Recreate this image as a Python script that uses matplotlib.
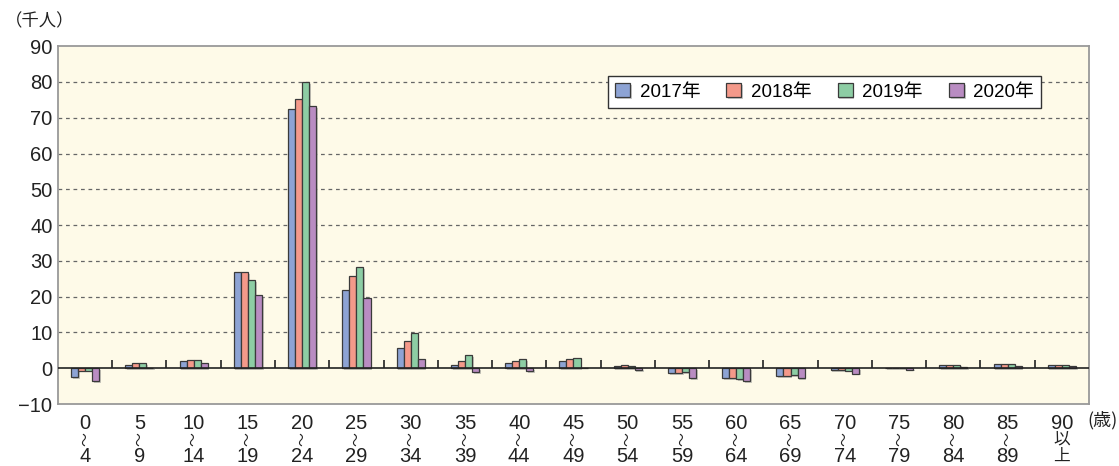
import matplotlib.pyplot as plt
import matplotlib.patheffects as pe
import numpy as np

plt.rcParams['font.family'] = ['Liberation Sans', 'DejaVu Sans', 'Noto Sans CJK JP']

age_top = ["0", "5", "10", "15", "20", "25", "30", "35", "40", "45",
           "50", "55", "60", "65", "70", "75", "80", "85", "90"]
age_bottom = ["4", "9", "14", "19", "24", "29", "34", "39", "44", "49",
              "54", "59", "64", "69", "74", "79", "84", "89", "上"]
age_middle = ["〜"] * 18 + ["以"]
years = ["2017年", "2018年", "2019年", "2020年"]
v2017 = [-2.5, 0.8, 1.9, 26.8, 72.3, 21.9, 5.6, 1.0, 1.5, 2.0, 0.5, -1.4, -2.8, -2.2, -0.6, 0.2, 1.0, 1.1, 0.8]
v2018 = [-0.7, 1.4, 2.2, 26.8, 75.1, 25.7, 7.5, 2.0, 2.0, 2.6, 0.8, -1.4, -2.8, -2.2, -0.6, 0.2, 1.0, 1.3, 0.8]
v2019 = [-0.7, 1.4, 2.2, 24.6, 80.0, 28.2, 9.9, 3.7, 2.5, 2.8, 0.6, -1.1, -3.1, -2.0, -0.7, 0.2, 1.0, 1.3, 0.8]
v2020 = [-3.6, 0.2, 1.4, 20.4, 73.2, 19.6, 2.6, -1.1, -0.8, 0.1, -0.6, -2.8, -3.7, -2.8, -1.5, -0.4, 0.3, 0.6, 0.5]
y_ticks = [90, 80, 70, 60, 50, 40, 30, 20, 10, 0, -10]

colors = ["#8DA3D4", "#F4998A", "#8DCDA4", "#B98CC2"]
series = [v2017, v2018, v2019, v2020]

fig = plt.figure(figsize=(11.19, 4.66), dpi=100)
ax = fig.add_axes([0.0518, 0.133, 0.9214, 0.768])
ax.set_facecolor("#FEFAE8")

x = np.arange(len(age_top))
w = 0.13
shadow = [pe.SimplePatchShadow(offset=(1.2, -1.2), shadow_rgbFace="#888888", alpha=0.45), pe.Normal()]
for i, (vals, c, lab) in enumerate(zip(series, colors, years)):
    ax.bar(x + (i - 1.5) * w, vals, w, color=c, edgecolor="#3a3a3a", linewidth=0.9,
           label=lab, zorder=3, path_effects=shadow)

for t in y_ticks:
    if t not in (0, 90, -10):
        ax.axhline(t, color="#666666", linestyle=(0, (3, 3)), linewidth=0.9, zorder=1)
ax.axhline(0, color="#222222", linewidth=1.2, zorder=4)
ax.vlines(x[:-1] + 0.5, 0, 2.3, color="#222222", linewidth=1.2, zorder=4)

ax.set_xlim(-0.5, len(age_top) - 0.5)
ax.set_ylim(-10, 90)
ax.set_yticks(y_ticks)
ax.set_yticklabels([str(t).replace("-", "−") for t in y_ticks], fontsize=14.5, color="#222222")
ax.set_xticks(x)
ax.set_xticklabels(age_top, fontsize=14.5, color="#222222")
ax.tick_params(axis="both", length=0, pad=4)
ax.tick_params(axis="x", pad=7)
for s in ax.spines.values():
    s.set_color("#999999")
    s.set_linewidth(1.3)

# middle wave / bottom line of the age labels
tr = ax.get_xaxis_transform()
for xi, mid, bot in zip(x, age_middle, age_bottom):
    if mid == "〜":
        ax.text(xi, -0.097, mid, transform=tr, rotation=90, fontsize=10, color="#222222",
                ha="center", va="center", family="Noto Sans CJK JP")
    else:
        ax.text(xi, -0.099, mid, transform=tr, fontsize=12, color="#222222",
                ha="center", va="center", family="Noto Sans CJK JP")
    ax.text(xi, -0.147, bot, transform=tr, fontsize=14.5 if bot != "上" else 12, color="#222222",
            ha="center", va="center",
            family="Liberation Sans" if bot != "上" else "Noto Sans CJK JP")

fig.text(0.004, 0.955, "（千人）", fontsize=12.5, color="#222222", ha="left", va="center")
fig.text(0.999, 0.098, "(歳)", fontsize=13, color="#222222", ha="right", va="center",
         family="Noto Sans CJK JP")

leg = ax.legend(loc="upper right", bbox_to_anchor=(0.963, 0.944), ncol=4, fontsize=13.5,
                frameon=True, fancybox=False, edgecolor="#333333", facecolor="white",
                handlelength=0.8, handleheight=0.8, columnspacing=1.4, handletextpad=0.5,
                borderpad=0.4, framealpha=1)
leg.get_frame().set_linewidth(1.0)

fig.savefig("out.png", dpi=100)
